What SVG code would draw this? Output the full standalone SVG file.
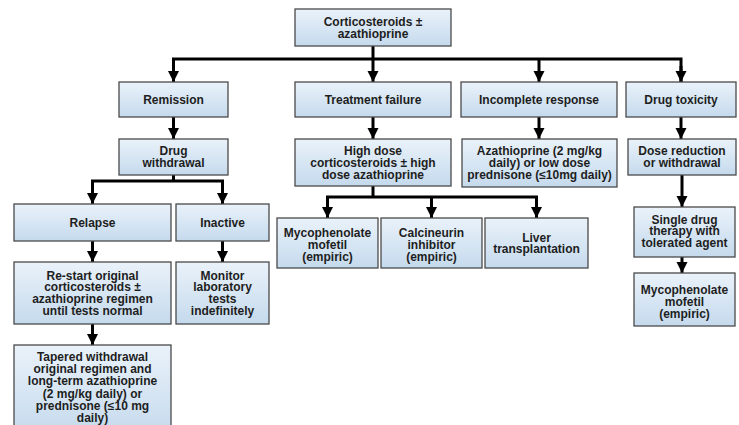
<svg xmlns="http://www.w3.org/2000/svg" width="739" height="425" viewBox="0 0 739 425">
<defs>
<linearGradient id="g" x1="0" y1="0" x2="0" y2="1">
<stop offset="0" stop-color="#eaf2fa"/>
<stop offset="1" stop-color="#c5daed"/>
</linearGradient>
<marker id="ah" markerUnits="userSpaceOnUse" markerWidth="12" markerHeight="12" viewBox="0 0 12 12" refX="11" refY="6" orient="auto">
<path d="M0,0.5 L11,6 L0,11.5 Z" fill="#000"/>
</marker>
<style>
rect{fill:url(#g);stroke:#4a4a4a;stroke-width:1.3}
text{font-family:"Liberation Sans",Arial,sans-serif;font-weight:bold;font-size:12px;fill:#1e1e1e;text-anchor:middle}
#connectors line,#connectors path{stroke:#000;stroke-width:3;fill:none}
.a{marker-end:url(#ah)}
</style>
</defs>
<rect x="0" y="0" width="739" height="425" style="fill:#fff;stroke:none"/>
<g id="connectors">
<line class="a" x1="373" y1="46" x2="373" y2="82"/>
<path d="M173.5,82 V59 H681 V82" style="stroke-linejoin:miter"/>
<line class="a" x1="173.5" y1="66" x2="173.5" y2="82"/>
<line class="a" x1="539" y1="59" x2="539" y2="82"/>
<line class="a" x1="681" y1="66" x2="681" y2="82"/>
<line class="a" x1="173.5" y1="117" x2="173.5" y2="139"/>
<line class="a" x1="373" y1="117" x2="373" y2="139"/>
<line class="a" x1="539" y1="117" x2="539" y2="139"/>
<line class="a" x1="681" y1="117" x2="681" y2="139"/>
<path d="M173.5,175 V181"/>
<path d="M92.5,204 V181 H222.5 V204"/>
<line class="a" x1="92.5" y1="190" x2="92.5" y2="204"/>
<line class="a" x1="222.5" y1="190" x2="222.5" y2="204"/>
<line class="a" x1="92.5" y1="241" x2="92.5" y2="262"/>
<line class="a" x1="222.5" y1="241" x2="222.5" y2="262"/>
<line class="a" x1="92.5" y1="324" x2="92.5" y2="345"/>
<path d="M373,186 V197"/>
<path d="M327.5,218 V197 H536.5 V218"/>
<line class="a" x1="327.5" y1="205" x2="327.5" y2="218"/>
<line class="a" x1="431.5" y1="197" x2="431.5" y2="218"/>
<line class="a" x1="536.5" y1="205" x2="536.5" y2="218"/>
<line class="a" x1="682" y1="175" x2="682" y2="207"/>
<line class="a" x1="682" y1="257" x2="682" y2="273"/>
</g>
<g id="n-top"><rect x="295" y="9" width="156" height="37"/><text x="373" y="25.5">Corticosteroids ±</text><text x="373" y="37.5">azathioprine</text></g>
<g id="n-remission"><rect x="119" y="82" width="109" height="35"/><text x="173.5" y="104">Remission</text></g>
<g id="n-failure"><rect x="295" y="82" width="156" height="35"/><text x="373" y="104">Treatment failure</text></g>
<g id="n-incomplete"><rect x="461" y="82" width="156" height="35"/><text x="539" y="104">Incomplete response</text></g>
<g id="n-toxicity"><rect x="626" y="82" width="110" height="35"/><text x="681" y="104">Drug toxicity</text></g>
<g id="n-withdrawal"><rect x="119" y="139" width="109" height="36"/><text x="173.5" y="155">Drug</text><text x="173.5" y="167">withdrawal</text></g>
<g id="n-highdose"><rect x="295" y="139" width="156" height="47"/><text x="373" y="155">High dose</text><text x="373" y="167">corticosteroids ± high</text><text x="373" y="179">dose azathioprine</text></g>
<g id="n-aza"><rect x="462" y="139" width="155" height="48"/><text x="539.5" y="155">Azathioprine (2 mg/kg</text><text x="539.5" y="167">daily) or low dose</text><text x="539.5" y="179">prednisone (≤10mg daily)</text></g>
<g id="n-dose"><rect x="628" y="139" width="108" height="36"/><text x="682" y="154.5">Dose reduction</text><text x="682" y="166.5">or withdrawal</text></g>
<g id="n-relapse"><rect x="14" y="204" width="157" height="37"/><text x="92.5" y="227">Relapse</text></g>
<g id="n-inactive"><rect x="176" y="204" width="93" height="37"/><text x="222.5" y="227">Inactive</text></g>
<g id="n-myco1"><rect x="277" y="218" width="101" height="50"/><text x="327.5" y="236.5">Mycophenolate</text><text x="327.5" y="248.5">mofetil</text><text x="327.5" y="260.5">(empiric)</text></g>
<g id="n-calci"><rect x="381" y="218" width="101" height="50"/><text x="431.5" y="236.5">Calcineurin</text><text x="431.5" y="248.5">inhibitor</text><text x="431.5" y="260.5">(empiric)</text></g>
<g id="n-liver"><rect x="485" y="218" width="103" height="50"/><text x="536.5" y="241.5">Liver</text><text x="536.5" y="253">transplantation</text></g>
<g id="n-single"><rect x="634" y="207" width="101" height="50"/><text x="684.5" y="223.5">Single drug</text><text x="684.5" y="235">therapy with</text><text x="684.5" y="246.5">tolerated agent</text></g>
<g id="n-myco2"><rect x="634" y="273" width="101" height="53"/><text x="684.5" y="294">Mycophenolate</text><text x="684.5" y="306">mofetil</text><text x="684.5" y="318">(empiric)</text></g>
<g id="n-restart"><rect x="14" y="262" width="157" height="62"/><text x="92.5" y="279.5">Re-start original</text><text x="92.5" y="291">corticosteroids ±</text><text x="92.5" y="303">azathioprine regimen</text><text x="92.5" y="315">until tests normal</text></g>
<g id="n-monitor"><rect x="176" y="262" width="93" height="62"/><text x="222.5" y="279.5">Monitor</text><text x="222.5" y="291">laboratory</text><text x="222.5" y="303">tests</text><text x="222.5" y="315">indefinitely</text></g>
<g id="n-tapered"><rect x="14" y="345" width="157" height="90"/><text x="92.5" y="361">Tapered withdrawal</text><text x="92.5" y="373">original regimen and</text><text x="92.5" y="385">long-term azathioprine</text><text x="92.5" y="397.5">(2 mg/kg daily) or</text><text x="92.5" y="410">prednisone (≤10 mg</text><text x="92.5" y="421.5">daily)</text></g>
</svg>
